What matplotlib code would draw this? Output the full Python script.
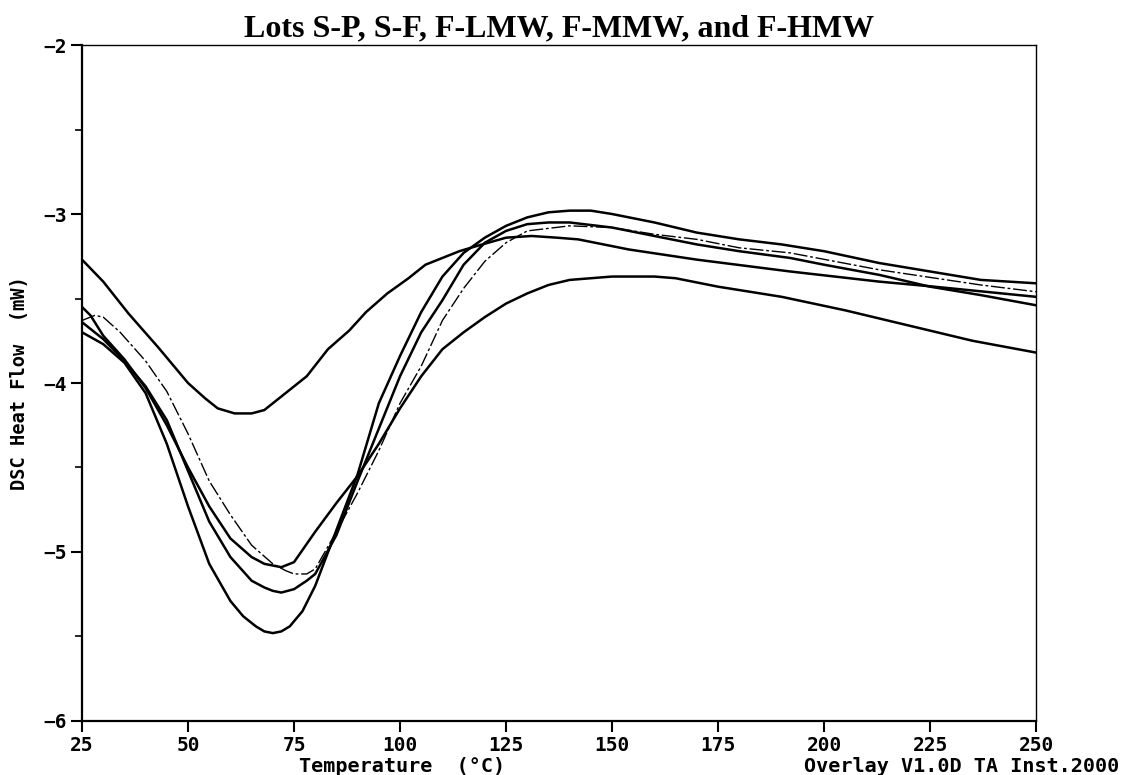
import matplotlib
matplotlib.use("Agg")
import matplotlib.pyplot as plt

# temperature (C) / heat flow (mW)
temp_a = [25, 30, 36, 43, 50, 54, 57, 61, 65, 68, 72, 78, 83, 88, 92, 97, 102,
          106, 110, 114, 118, 125, 131, 137, 142, 154, 170, 192, 213, 226, 238, 250]
flow_a = [-3.27, -3.40, -3.59, -3.79, -4.00, -4.09, -4.15, -4.18, -4.18, -4.16,
          -4.08, -3.96, -3.80, -3.69, -3.58, -3.47, -3.38, -3.30, -3.26, -3.22,
          -3.19, -3.14, -3.13, -3.14, -3.15, -3.21, -3.27, -3.34, -3.40, -3.43,
          -3.46, -3.49]

temp_b = [25, 30, 35, 40, 45, 50, 55, 60, 63, 66, 68, 70, 72, 74, 77, 80, 85,
          90, 95, 100, 105, 110, 115, 120, 125, 130, 135, 140, 145, 150, 160,
          170, 180, 190, 200, 213, 225, 237, 250]
flow_b = [-3.70, -3.77, -3.88, -4.06, -4.36, -4.73, -5.07, -5.29, -5.38, -5.44,
          -5.47, -5.48, -5.47, -5.44, -5.35, -5.20, -4.87, -4.54, -4.12, -3.84,
          -3.58, -3.37, -3.23, -3.14, -3.07, -3.02, -2.99, -2.98, -2.98, -3.00,
          -3.05, -3.11, -3.15, -3.18, -3.22, -3.29, -3.34, -3.39, -3.41]

temp_c = [25, 30, 35, 40, 45, 50, 55, 60, 65, 68, 70, 72, 75, 78, 80, 85, 90,
          95, 100, 105, 110, 115, 120, 125, 130, 135, 140, 150, 160, 170, 180,
          192, 200, 213, 225, 237, 250]
flow_c = [-3.64, -3.74, -3.87, -4.02, -4.22, -4.52, -4.82, -5.03, -5.17, -5.21,
          -5.23, -5.24, -5.22, -5.17, -5.13, -4.90, -4.58, -4.27, -3.96, -3.70,
          -3.51, -3.30, -3.17, -3.10, -3.06, -3.05, -3.05, -3.08, -3.13, -3.18,
          -3.22, -3.26, -3.30, -3.36, -3.43, -3.48, -3.54]

temp_d = [25, 27, 30, 35, 40, 45, 50, 55, 60, 65, 68, 70, 72, 75, 80, 85, 90,
          95, 100, 105, 110, 115, 120, 125, 130, 135, 140, 150, 160, 165, 175,
          190, 205, 220, 235, 250]
flow_d = [-3.55, -3.60, -3.72, -3.86, -4.03, -4.25, -4.50, -4.73, -4.92, -5.03,
          -5.07, -5.08, -5.09, -5.06, -4.88, -4.71, -4.55, -4.36, -4.15, -3.96,
          -3.80, -3.70, -3.61, -3.53, -3.47, -3.42, -3.39, -3.37, -3.37, -3.38,
          -3.43, -3.49, -3.57, -3.66, -3.75, -3.82]

temp_e = [25, 28, 30, 34, 40, 45, 50, 55, 60, 65, 70, 73, 75, 78, 80, 85, 90,
          95, 100, 105, 110, 115, 120, 125, 130, 140, 150, 160, 170, 180, 192,
          213, 237, 250]
flow_e = [-3.63, -3.60, -3.61, -3.70, -3.87, -4.05, -4.30, -4.58, -4.78, -4.96,
          -5.07, -5.11, -5.13, -5.13, -5.10, -4.88, -4.65, -4.40, -4.12, -3.90,
          -3.63, -3.44, -3.28, -3.17, -3.10, -3.07, -3.08, -3.12, -3.15, -3.20,
          -3.23, -3.33, -3.42, -3.46]

x_ticks = [25, 50, 75, 100, 125, 150, 175, 200, 225, 250]
y_ticks = [-6, -5, -4, -3, -2]

mono = "DejaVu Sans Mono"

fig = plt.figure(figsize=(11.22, 7.75), dpi=100)
ax = fig.add_axes([0.0731, 0.0697, 0.8503, 0.8722])

for t, f in [(temp_a, flow_a), (temp_b, flow_b), (temp_c, flow_c), (temp_d, flow_d)]:
    ax.plot(t, f, color="black", lw=1.8, solid_joinstyle="round")
ax.plot(temp_e, flow_e, color="black", lw=1.0, linestyle=(0, (10, 2, 2, 2)))

ax.set_xlim(25, 250)
ax.set_ylim(-6, -2)
ax.set_xticks(x_ticks)
ax.set_yticks(y_ticks)
ax.set_yticks([-5.5, -4.5, -3.5, -2.5], minor=True)
ax.tick_params(axis="both", which="major", direction="out", length=8, width=1.5,
               labelsize=14, pad=3)
ax.tick_params(axis="y", which="minor", direction="out", length=5, width=1.2)
for lab in ax.get_xticklabels() + ax.get_yticklabels():
    lab.set_family(mono)
    lab.set_fontweight("bold")

for side in ["left", "bottom"]:
    ax.spines[side].set_linewidth(1.6)
for side in ["top", "right"]:
    ax.spines[side].set_linewidth(1.0)
    ax.spines[side].set_linestyle((0, (8, 1, 2, 1)))

ax.set_title("Lots S-P, S-F, F-LMW, F-MMW, and F-HMW", family="Liberation Serif",
             fontweight="bold", fontsize=23, pad=6)
ax.set_ylabel("DSC Heat Flow  (mW)", family=mono, fontweight="bold", fontsize=13.5,
              labelpad=10)

fig.text(402 / 1122, 1 - 766 / 775, "Temperature  (°C)", family=mono,
         fontweight="bold", fontsize=14.5, ha="center", va="center")
fig.text(1119 / 1122, 1 - 766 / 775, "Overlay V1.0D TA Inst.2000", family=mono,
         fontweight="bold", fontsize=14.5, ha="right", va="center")

fig.savefig("out.png", dpi=100)
